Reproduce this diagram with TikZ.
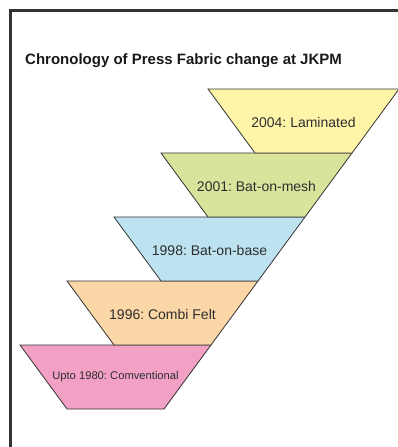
\documentclass[tikz,border=0pt]{standalone}
\usepackage{fontspec}
\setmainfont{Liberation Sans}
\frenchspacing

\definecolor{framegray}{HTML}{333333}
\definecolor{textgray}{HTML}{2E2E2E}
\definecolor{laminyellow}{HTML}{FFF5A9}
\definecolor{meshgreen}{HTML}{D9E39C}
\definecolor{baseblue}{HTML}{BDE3F0}
\definecolor{combiorange}{HTML}{FBD6A6}
\definecolor{convpink}{HTML}{F2A1C5}

\begin{document}
\begin{tikzpicture}[x=1pt, y=-1pt,
    stagebox/.style={draw=framegray, line width=0.8pt, line join=miter},
    stagetext/.style={text=textgray, inner sep=0pt, font=\fontsize{14}{16}\selectfont}]
    \useasboundingbox (0,0) rectangle (397,447);
    % Frame
    \draw[framegray, line width=3pt] (10.5,460) -- (10.5,10.5) -- (410,10.5);

    % Title
    \node[anchor=west, inner sep=0pt, font=\bfseries\fontsize{15}{17}\selectfont, text=black!90] (title) at (25,61)
        {Chronology of Press Fabric change at JKPM};

    % Stages, bottom to top
    \draw[stagebox, fill=convpink] (20,345) -- (211,345) -- (164,409) -- (67,409) -- cycle;
    \node[stagetext, font=\fontsize{11.2}{13}\selectfont] (conv) at (115.5,377) {Upto 1980: Comventional};

    \draw[stagebox, fill=combiorange] (67,281) -- (258,281) -- (211,345) -- (114,345) -- cycle;
    \node[stagetext] (combi) at (162.5,314) {1996: Combi Felt};

    \draw[stagebox, fill=baseblue] (114,217) -- (305,217) -- (258,281) -- (161,281) -- cycle;
    \node[stagetext] (base) at (209.5,250) {1998: Bat-on-base};

    \draw[stagebox, fill=meshgreen] (161,153) -- (352,153) -- (305,217) -- (208,217) -- cycle;
    \node[stagetext] (mesh) at (256.5,186) {2001: Bat-on-mesh};

    \draw[stagebox, fill=laminyellow] (208,89) -- (399,89) -- (352,153) -- (255,153) -- cycle;
    \node[stagetext] (lamin) at (303.5,122) {2004: Laminated};
\end{tikzpicture}
\end{document}
